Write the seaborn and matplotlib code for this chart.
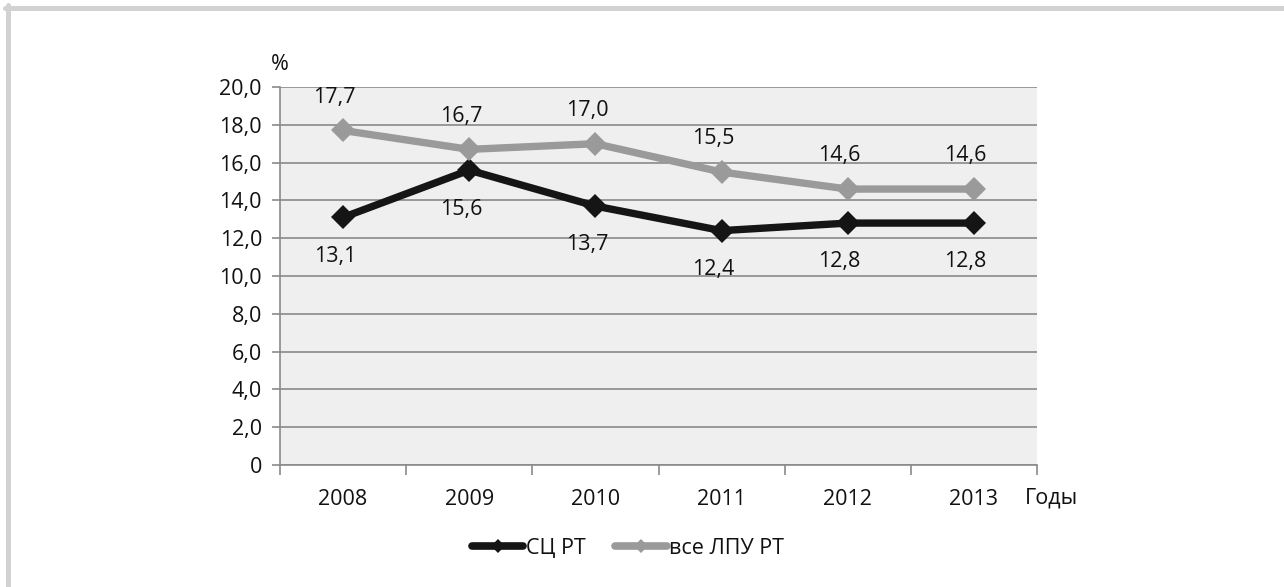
import matplotlib
matplotlib.use("Agg")
import matplotlib.pyplot as plt
from matplotlib.lines import Line2D
import seaborn as sns
import pandas as pd

# Data
years = ["2008", "2009", "2010", "2011", "2012", "2013"]
sc_rt = [13.1, 15.6, 13.7, 12.4, 12.8, 12.8]
all_lpu_rt = [17.7, 16.7, 17.0, 15.5, 14.6, 14.6]
series_names = ["СЦ РТ", "все ЛПУ РТ"]
y_ticks = [0, 2, 4, 6, 8, 10, 12, 14, 16, 18, 20]
y_tick_labels = ["0", "2,0", "4,0", "6,0", "8,0", "10,0", "12,0", "14,0", "16,0", "18,0", "20,0"]
y_unit = "%"
x_unit = "Годы"

sns.set_theme(style="white")
plt.rcParams["font.family"] = ["Open Sans", "DejaVu Sans"]

FS = 15.5
TXT = "#111111"
colors = ["#151515", "#9a9a9a"]

df = pd.DataFrame({
    "year": years * 2,
    "value": sc_rt + all_lpu_rt,
    "series": [series_names[0]] * len(years) + [series_names[1]] * len(years),
})

fig = plt.figure(figsize=(12.84, 5.87), dpi=100)
ax = fig.add_axes([280 / 1284, 1 - 465 / 587, (1037 - 280) / 1284, (465 - 87) / 587])
ax.set_facecolor("#efefef")

sns.pointplot(
    data=df, x="year", y="value", hue="series", order=years,
    hue_order=series_names, palette=colors, markers=["D", "D"],
    linestyles=["-", "-"], markersize=12.5, linewidth=5.3, ax=ax,
    legend=False, errorbar=None,
)
for ln in ax.lines:
    ln.set_markeredgewidth(0)
    ln.set_solid_capstyle("round")
    ln.set_solid_joinstyle("round")

ax.set_xlim(-0.5, len(years) - 0.5)
ax.set_ylim(0, 20)
ax.set_xlabel("")
ax.set_ylabel("")

# Gridlines
ax.yaxis.grid(True, color="#8a8a8a", linewidth=1.2)
ax.xaxis.grid(False)
ax.set_axisbelow(True)

for side in ["top", "right"]:
    ax.spines[side].set_visible(False)
for side in ["left", "bottom"]:
    ax.spines[side].set_color("#8a8a8a")
    ax.spines[side].set_linewidth(1.2)

# Y ticks
ax.set_yticks(y_ticks)
ax.set_yticklabels(y_tick_labels)
ax.tick_params(axis="y", which="major", left=True, length=6, width=1.2,
               color="#8a8a8a", pad=7, labelsize=FS, labelcolor=TXT)

# X ticks: marks at category boundaries, labels centred on categories
ax.set_xticks([i - 0.5 for i in range(len(years) + 1)])
ax.set_xticklabels([""] * (len(years) + 1))
ax.set_xticks(range(len(years)), minor=True)
ax.set_xticklabels(years, minor=True)
ax.tick_params(axis="x", which="major", bottom=True, length=7, width=1.2, color="#8a8a8a")
ax.tick_params(axis="x", which="minor", bottom=True, length=0, pad=17,
               labelsize=FS, labelcolor=TXT)

# Value labels
for i, v in enumerate(all_lpu_rt):
    ax.annotate(f"{v:.1f}".replace(".", ","), (i, v), xytext=(-6, 24),
                textcoords="offset points", ha="center", va="center",
                fontsize=FS, color=TXT)
for i, v in enumerate(sc_rt):
    ax.annotate(f"{v:.1f}".replace(".", ","), (i, v), xytext=(-6, -28),
                textcoords="offset points", ha="center", va="center",
                fontsize=FS, color=TXT)

# Axis unit captions
fig.text(280 / 1284, 1 - 65 / 587, y_unit, ha="center", va="center",
         fontsize=FS, color=TXT)
fig.text(1025 / 1284, 1 - 498 / 587, x_unit, ha="left", va="center",
         fontsize=FS, color=TXT)

# Legend
handles = [Line2D([], [], color=c, linewidth=5.5, marker="D", markersize=7,
                  markeredgewidth=0, solid_capstyle="round") for c in colors]
fig.legend(handles, series_names, loc="center", bbox_to_anchor=(628 / 1284, 1 - 548 / 587),
           ncol=2, frameon=False, fontsize=FS, handlelength=2.4, handletextpad=0.1,
           columnspacing=1.4, labelcolor=TXT)

# Outer frame (top and left edges)
fig.add_artist(Line2D([7.5 / 1284, 7.5 / 1284], [0, 1 - 5 / 587], color="#d2d2d2",
                      linewidth=3.6, transform=fig.transFigure))
fig.add_artist(Line2D([5 / 1284, 1], [1 - 7.5 / 587, 1 - 7.5 / 587], color="#d2d2d2",
                      linewidth=3.6, transform=fig.transFigure))

fig.savefig("out.png", dpi=100, facecolor="white")
